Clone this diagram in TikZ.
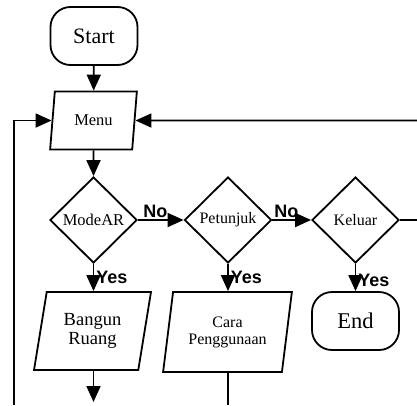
\documentclass[tikz,border=0pt]{standalone}
\usepackage{fontspec}
\setmainfont{Liberation Serif}
\newfontfamily\lblfont{Liberation Sans}
\usetikzlibrary{shapes.geometric,arrows.meta}
\tikzset{
  flow/.style={line width=1.8pt},
  arr/.style={flow,-{Triangle[length=16pt,width=14pt]}},
  term/.style={draw,line width=1.8pt,rectangle,rounded corners=20pt,minimum width=87pt,minimum height=58pt,inner sep=0pt,font=\fontsize{22}{24}\selectfont},
  decide/.style={draw,line width=1.8pt,diamond,minimum width=87pt,minimum height=86pt,inner sep=0pt,font=\fontsize{16}{18}\selectfont},
  io/.style={draw,line width=1.8pt,trapezium,trapezium stretches=true,trapezium left angle=77,trapezium right angle=103,inner sep=0pt,align=center},
  lbl/.style={font=\lblfont\bfseries\fontsize{18}{20}\selectfont,inner sep=1pt}
}
\begin{document}
\begin{tikzpicture}[x=1pt,y=-1pt]
\useasboundingbox (0,0) rectangle (417,405);
\node[term] (start) at (94,36) {Start};
\node[io,trapezium left angle=78,trapezium right angle=102,minimum width=87pt,minimum height=58pt,font=\fontsize{16.5}{18}\selectfont] (menu) at (93.5,120.5) {Menu};
\node[decide,font=\fontsize{16.5}{18}\selectfont] (modear) at (93.5,220) {ModeAR};
\node[decide] (petunjuk) at (228,220) {Petunjuk};
\node[decide] (keluar) at (355.5,220) {Keluar};
\node[io,minimum width=117pt,minimum height=78pt,font=\fontsize{18.5}{18.5}\selectfont] (bangun) at (92.5,331) {Bangun\\Ruang};
\node[io,minimum width=129pt,minimum height=80pt,font=\fontsize{16}{17}\selectfont] (cara) at (227.5,332) {Cara\\Penggunaan};
\node[term,font=\fontsize{22.5}{24}\selectfont] (end) at (355.5,321) {End};
\coordinate (rout) at (417,220);
\coordinate (rin) at (417,120.5);
\coordinate (lbot) at (14,405);
\coordinate (bdown) at (93.5,402);
\coordinate (cdown) at (228,405);
\draw[arr] (start) -- (menu);
\draw[arr] (menu) -- (modear);
\draw[arr] (modear) -- node[lbl,above,pos=0.38]{No} (petunjuk);
\draw[arr] (petunjuk) -- node[lbl,above,pos=0.36]{No} (keluar);
\draw[flow] (keluar.east) -- (rout);
\draw[arr] (rin) -- (menu);
\draw[arr] (lbot) |- (menu);
\draw[arr] (modear) -- node[lbl,right,pos=0.5,xshift=1pt]{Yes} (modear.south |- bangun.north);
\draw[arr] (petunjuk) -- node[lbl,right,pos=0.5,xshift=1pt]{Yes} (petunjuk.south |- cara.north);
\draw[arr] (keluar) -- node[lbl,right,pos=0.6,xshift=1pt]{Yes} (end);
\draw[arr] (modear.south |- bangun.south) -- (bdown);
\draw[flow] (petunjuk.south |- cara.south) -- (cdown);
\end{tikzpicture}
\end{document}
